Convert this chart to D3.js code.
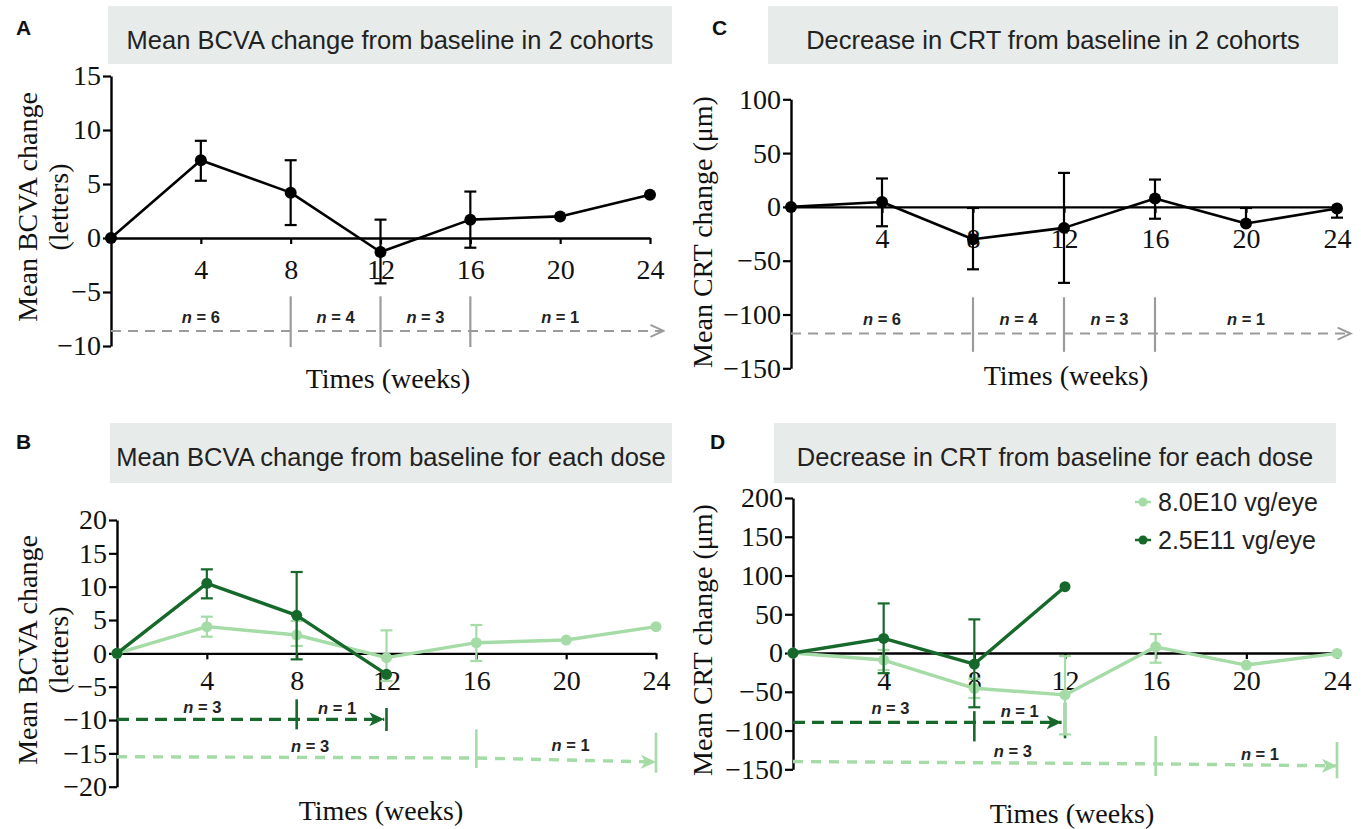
<!DOCTYPE html>
<html>
<head>
<meta charset="utf-8">
<script src="https://cdn.jsdelivr.net/npm/d3@7"></script>
<style>
body { margin: 0; background: #fff; }
</style>
</head>
<body>
<svg id="fig" width="1361" height="829"></svg>
<script>
// ---- data ----
const weeks = [0, 4, 8, 12, 16, 20, 24];
const highWeeks = [0, 4, 8, 12];
const xTicks = [4, 8, 12, 16, 20, 24];

// A: BCVA, both cohorts
const bcvaAll   = [0, 7.2, 4.2, -1.3, 1.7, 2.0, 4.0];
const bcvaAllLo = [0, 5.3, 1.2, -4.2, -0.9, 2.0, 4.0];
const bcvaAllHi = [0, 9.0, 7.2, 1.7, 4.3, 2.0, 4.0];

// C: CRT, both cohorts
const crtAll   = [0, 4.6, -30, -19.5, 7.8, -15.5, -1.5];
const crtAllLo = [0, -18, -58, -70.6, -11, -15.5, -10];
const crtAllHi = [0, 26.4, -1, 31.6, 25.4, -1, -1.5];

// B: BCVA per dose
const bcvaLow    = [0, 4.0, 2.75, -0.65, 1.6, 2.0, 4.0];
const bcvaLowLo  = [0, 2.5, 1.1, -4.15, -1.15, 2.0, 4.0];
const bcvaLowHi  = [0, 5.5, 4.85, 3.45, 4.25, 2.0, 4.0];
const bcvaHigh   = [0, 10.5, 5.7, -3.15];
const bcvaHighLo = [0, 8.25, -0.9, -3.15];
const bcvaHighHi = [0, 12.6, 12.2, -3.15];

// D: CRT per dose
const crtLow    = [0, -9, -45.5, -54, 8, -15.5, -0.5];
const crtLowLo  = [0, -22, -58, -105, -12.5, -15.5, -0.5];
const crtLowHi  = [0, 4, -33, -4, 24.5, -15.5, -0.5];
const crtHigh   = [0, 18.9, -14.2, 85.6];
const crtHighLo = [0, -26, -70, 85.6];
const crtHighHi = [0, 64, 43.4, 85.6];

const doseNames = ["8.0E10 vg/eye", "2.5E11 vg/eye"];

// patient-count bands under the curves
const nCohort = [6, 4, 3, 1];
const nCohortWeeks = [4, 10, 14, 20];
const nHigh = [3, 1];
const nLow = [3, 1];

const LIGHT = "#a5dba6", DARK = "#16692a", GREY = "#9b9b9b";
const serif = "'Liberation Serif','Times New Roman',serif";
const sans = "'Liberation Sans',Arial,sans-serif";

const svg = d3.select("#fig");

// arrow heads
const defs = svg.append("defs");
defs.append("marker").attr("id", "arrGrey")
    .attr("viewBox", "-1 -8 16 16").attr("markerUnits", "userSpaceOnUse")
    .attr("markerWidth", 16).attr("markerHeight", 16).attr("refX", 13).attr("refY", 0)
    .attr("orient", "auto")
    .append("path").attr("d", "M0,-6L13,0L0,6").attr("fill", "none")
    .attr("stroke", GREY).attr("stroke-width", 2);
[["arrDark", DARK], ["arrLight", LIGHT]].forEach(function(m) {
    defs.append("marker").attr("id", m[0])
	.attr("viewBox", "0 -8 16 16").attr("markerUnits", "userSpaceOnUse")
	.attr("markerWidth", 16).attr("markerHeight", 16).attr("refX", 15).attr("refY", 0)
	.attr("orient", "auto")
	.append("path").attr("d", "M0,-7L15,0L0,7L4,0Z").attr("fill", m[1]);
});

// title strip + letter
function header(letter, lx, ly, bx0, bx1, by0, by1, text, ty) {
    svg.append("rect").attr("x", bx0).attr("y", by0)
	.attr("width", bx1 - bx0).attr("height", by1 - by0).attr("fill", "#e7ebe9");
    svg.append("text").attr("x", (bx0 + bx1) / 2).attr("y", ty)
	.attr("text-anchor", "middle").attr("dy", "0.35em")
	.attr("font-family", sans).attr("font-size", 25.5).attr("fill", "#222")
	.text(text);
    svg.append("text").attr("x", lx).attr("y", ly).attr("dy", "0.35em")
	.attr("font-family", sans).attr("font-weight", "bold").attr("font-size", 21)
	.attr("fill", "#111").text(letter);
}

// axes of one panel
function panel(p) {
    const x = d3.scaleLinear().domain([0, 24]).range([p.x0, p.x1]);
    const y = d3.scaleLinear().domain(p.yDomain).range([p.yBot, p.yTop]);
    const g = svg.append("g");

    const xa = g.append("g").attr("transform", "translate(0," + y(0) + ")")
	.call(d3.axisBottom(x).tickValues(xTicks).tickSize(6).tickSizeOuter(0).tickPadding(p.xPad));
    const ya = g.append("g").attr("transform", "translate(" + p.x0 + ",0)")
	.call(d3.axisLeft(y).tickValues(p.yTicks).tickSize(8).tickSizeOuter(0).tickPadding(2));
    [xa, ya].forEach(function(a) {
	a.attr("font-family", serif).attr("font-size", 28);
	a.select(".domain").attr("stroke", "#000").attr("stroke-width", 2.4);
	a.selectAll(".tick line").attr("stroke", "#000").attr("stroke-width", 2.2);
	a.selectAll(".tick text").attr("fill", "#111");
    });

    g.append("text").attr("x", p.xtX).attr("y", p.xtY).attr("dy", "0.35em")
	.attr("text-anchor", "middle").attr("font-family", serif).attr("font-size", 28)
	.attr("fill", "#111").text("Times (weeks)");
    p.yTitle.forEach(function(t, i) {
	g.append("text").attr("transform", "translate(" + p.ytX[i] + "," + p.ytY + ") rotate(-90)")
	    .attr("text-anchor", "middle").attr("dy", "0.35em")
	    .attr("font-family", serif).attr("font-size", 28).attr("fill", "#111").text(t);
    });
    return {x: x, y: y, g: g};
}

function series(P, wk, vals, lo, hi, color, r, lw) {
    const g = P.g.append("g");
    const cap = 6;
    wk.forEach(function(w, i) {
	const cx = P.x(w);
	if (hi[i] > vals[i]) {
	    g.append("line").attr("x1", cx).attr("x2", cx).attr("y1", P.y(vals[i])).attr("y2", P.y(hi[i]))
		.attr("stroke", color).attr("stroke-width", 2.2);
	    g.append("line").attr("x1", cx - cap).attr("x2", cx + cap).attr("y1", P.y(hi[i])).attr("y2", P.y(hi[i]))
		.attr("stroke", color).attr("stroke-width", 2.2);
	}
	if (lo[i] < vals[i]) {
	    g.append("line").attr("x1", cx).attr("x2", cx).attr("y1", P.y(vals[i])).attr("y2", P.y(lo[i]))
		.attr("stroke", color).attr("stroke-width", 2.2);
	    g.append("line").attr("x1", cx - cap).attr("x2", cx + cap).attr("y1", P.y(lo[i])).attr("y2", P.y(lo[i]))
		.attr("stroke", color).attr("stroke-width", 2.2);
	}
    });
    const line = d3.line().x(function(d) { return P.x(d[0]); }).y(function(d) { return P.y(d[1]); });
    g.append("path").datum(d3.zip(wk, vals)).attr("d", line)
	.attr("fill", "none").attr("stroke", color).attr("stroke-width", lw).attr("stroke-linejoin", "round");
    g.selectAll("circle").data(d3.zip(wk, vals)).enter().append("circle")
	.attr("cx", function(d) { return P.x(d[0]); }).attr("cy", function(d) { return P.y(d[1]); })
	.attr("r", r).attr("fill", color);
}

// n = ... band: dashed arrow, separators and labels
function nBand(P, b) {
    const g = P.g.append("g");
    b.sepWeeks.forEach(function(w, i) {
	g.append("line").attr("x1", P.x(w)).attr("x2", P.x(w))
	    .attr("y1", P.y(b.sepHi[i])).attr("y2", P.y(b.sepLo[i]))
	    .attr("stroke", b.color).attr("stroke-width", b.sepW);
    });
    const line = d3.line().x(function(d) { return P.x(d[0]); }).y(function(d) { return P.y(d[1]); });
    g.append("path").datum(d3.zip(b.lineWeeks, b.lineVals)).attr("d", line)
	.attr("fill", "none").attr("stroke", b.color).attr("stroke-width", b.lw)
	.attr("stroke-dasharray", b.dash).attr("marker-end", "url(#" + b.marker + ")");
    b.counts.forEach(function(c, i) {
	const t = g.append("text").attr("x", P.x(b.labWeeks[i])).attr("y", P.y(b.labVals[i]))
	    .attr("dy", "0.35em").attr("text-anchor", "middle")
	    .attr("font-family", sans).attr("font-weight", "bold").attr("font-size", 16.5).attr("fill", "#222");
	t.append("tspan").attr("font-style", "italic").text("n");
	t.append("tspan").text(" = " + c);
    });
}

// ---- A ----
header("A", 16, 28, 108, 672, 6, 64, "Mean BCVA change from baseline in 2 cohorts", 40);
const A = panel({x0: 111, x1: 650, yTop: 76, yBot: 346, yDomain: [-10, 15],
		 yTicks: [-10, -5, 0, 5, 10, 15], xPad: 15, xtX: 388, xtY: 378,
		 yTitle: ["Mean BCVA change", "(letters)"], ytX: [27, 58], ytY: 207});
nBand(A, {lineWeeks: [0, 24.6], lineVals: [-8.6, -8.6], sepWeeks: [8, 12, 16],
	  sepLo: [-10.1, -10.1, -10.1], sepHi: [-5.4, -5.4, -5.4],
	  counts: nCohort, labWeeks: nCohortWeeks, labVals: [-7.3, -7.3, -7.3, -7.3],
	  color: GREY, lw: 2, sepW: 2.2, dash: "10,7", marker: "arrGrey"});
series(A, weeks, bcvaAll, bcvaAllLo, bcvaAllHi, "#000", 6, 2.6);

// ---- C ----
header("C", 712, 28, 768, 1338, 6, 64, "Decrease in CRT from baseline in 2 cohorts", 40);
const C = panel({x0: 791, x1: 1337, yTop: 99.3, yBot: 368.3, yDomain: [-150, 100],
		 yTicks: [-150, -100, -50, 0, 50, 100], xPad: 15, xtX: 1066, xtY: 375,
		 yTitle: ["Mean CRT change (\u03bcm)"], ytX: [702], ytY: 232});
nBand(C, {lineWeeks: [0, 24.6], lineVals: [-117.7, -117.7], sepWeeks: [8, 12, 16],
	  sepLo: [-134.7, -134.7, -134.7], sepHi: [-84, -84, -84],
	  counts: nCohort, labWeeks: nCohortWeeks, labVals: [-104.7, -104.7, -104.7, -104.7],
	  color: GREY, lw: 2, sepW: 2.2, dash: "10,7", marker: "arrGrey"});
series(C, weeks, crtAll, crtAllLo, crtAllHi, "#000", 6, 2.6);

// ---- B ----
header("B", 16, 442, 110, 672, 423, 483, "Mean BCVA change from baseline for each dose", 457);
const B = panel({x0: 117, x1: 656, yTop: 520, yBot: 786.7, yDomain: [-20, 20],
		 yTicks: [-20, -15, -10, -5, 0, 5, 10, 15, 20], xPad: 11, xtX: 381, xtY: 810,
		 yTitle: ["Mean BCVA change", "(letters)"], ytX: [27, 58], ytY: 650});
nBand(B, {lineWeeks: [0, 11.9], lineVals: [-9.9, -9.9], sepWeeks: [8, 12],
	  sepLo: [-11.4, -11.65], sepHi: [-6.9, -8.2],
	  counts: nHigh, labWeeks: [3.8, 9.8], labVals: [-8.1, -8.3],
	  color: DARK, lw: 3.4, sepW: 2.6, dash: "12,7", marker: "arrDark"});
nBand(B, {lineWeeks: [0, 16, 24], lineVals: [-15.5, -15.7, -16.3], sepWeeks: [16, 24],
	  sepLo: [-17.2, -17.9], sepHi: [-11.4, -11.9],
	  counts: nLow, labWeeks: [8.6, 20.2], labVals: [-13.9, -13.8],
	  color: LIGHT, lw: 3.4, sepW: 2.6, dash: "10,8", marker: "arrLight"});
series(B, weeks, bcvaLow, bcvaLowLo, bcvaLowHi, LIGHT, 5.5, 3.4);
series(B, highWeeks, bcvaHigh, bcvaHighLo, bcvaHighHi, DARK, 5.5, 3.4);

// ---- D ----
header("D", 710, 442, 774, 1336, 423, 483, "Decrease in CRT from baseline for each dose", 457);
const D = panel({x0: 793, x1: 1337, yTop: 498, yBot: 769.3, yDomain: [-150, 200],
		 yTicks: [-150, -100, -50, 0, 50, 100, 150, 200], xPad: 11, xtX: 1072, xtY: 813,
		 yTitle: ["Mean CRT change (\u03bcm)"], ytX: [702], ytY: 640});
nBand(D, {lineWeeks: [0, 11.85], lineVals: [-89.4, -89.4], sepWeeks: [8, 12],
	  sepLo: [-114, -110], sepHi: [-75, -64],
	  counts: nHigh, labWeeks: [4.3, 10], labVals: [-71, -75],
	  color: DARK, lw: 3.4, sepW: 2.6, dash: "12,7", marker: "arrDark"});
nBand(D, {lineWeeks: [0, 16, 24], lineVals: [-140, -143, -145.6], sepWeeks: [16, 24],
	  sepLo: [-158.6, -161.5], sepHi: [-107, -114.7],
	  counts: nLow, labWeeks: [9.7, 20.6], labVals: [-127, -130],
	  color: LIGHT, lw: 3.4, sepW: 2.6, dash: "10,8", marker: "arrLight"});
series(D, weeks, crtLow, crtLowLo, crtLowHi, LIGHT, 5.5, 3.4);
series(D, highWeeks, crtHigh, crtHighLo, crtHighHi, DARK, 5.5, 3.4);

// legend (panel D)
const legend = svg.append("g").selectAll("g").data(doseNames).enter().append("g")
    .attr("transform", function(d, i) { return "translate(1143," + (502 + i * 38) + ")"; });
legend.append("line").attr("x1", -8).attr("x2", 8)
    .attr("stroke", function(d, i) { return i ? DARK : LIGHT; }).attr("stroke-width", 2.5);
legend.append("circle").attr("r", 4.5).attr("fill", function(d, i) { return i ? DARK : LIGHT; });
legend.append("text").attr("x", 15).attr("dy", "0.35em")
    .attr("font-family", sans).attr("font-size", 25).attr("fill", "#222")
    .text(function(d) { return d; });
</script>
</body>
</html>
